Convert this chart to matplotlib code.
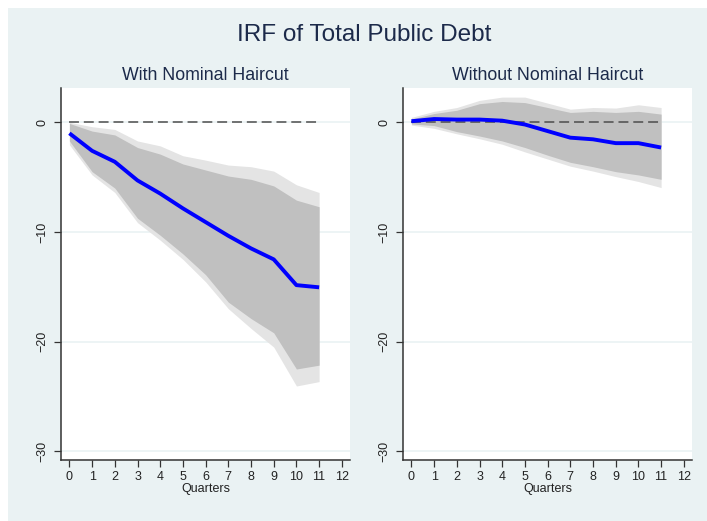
import numpy as np
import matplotlib
matplotlib.use('Agg')
import matplotlib.pyplot as plt
from matplotlib.patches import Rectangle

plt.rcParams['font.family'] = ['Liberation Sans', 'DejaVu Sans']

BG        = '#eaf2f3'
TITLE_CLR = '#1c2a4a'
LINE_CLR  = '#0000ff'
INNER_CLR = '#c0c0c0'
OUTER_CLR = '#e4e4e4'
AXIS_CLR  = '#333333'

quarters = [0, 1, 2, 3, 4, 5, 6, 7, 8, 9, 10, 11]

# With nominal haircut
irf_with       = [-1.0, -2.6, -3.6, -5.3, -6.5, -7.85, -9.1, -10.35, -11.5, -12.5, -14.85, -15.05]
inner_hi_with  = [-0.1, -0.8, -1.15, -2.3, -2.9, -3.8, -4.35, -4.9, -5.2, -5.8, -7.1, -7.7]
inner_lo_with  = [-1.7, -4.5, -6.0, -8.75, -10.3, -12.0, -13.9, -16.4, -17.9, -19.2, -22.5, -22.15]
outer_hi_with  = [0.0, -0.4, -0.65, -1.7, -2.15, -3.05, -3.45, -3.9, -4.05, -4.45, -5.7, -6.4]
outer_lo_with  = [-2.05, -4.8, -6.4, -9.15, -10.75, -12.5, -14.55, -17.0, -18.8, -20.5, -24.05, -23.65]

# Without nominal haircut
irf_wo         = [0.1, 0.3, 0.25, 0.25, 0.15, -0.2, -0.8, -1.4, -1.55, -1.9, -1.9, -2.3]
inner_hi_wo    = [0.3, 0.8, 1.1, 1.7, 1.9, 1.8, 1.35, 0.9, 1.0, 0.9, 1.0, 0.75]
inner_lo_wo    = [-0.15, -0.3, -0.85, -1.25, -1.7, -2.3, -3.0, -3.65, -4.05, -4.5, -4.8, -5.2]
outer_hi_wo    = [0.45, 1.0, 1.35, 2.0, 2.3, 2.3, 1.75, 1.2, 1.35, 1.3, 1.6, 1.35]
outer_lo_wo    = [-0.25, -0.55, -1.05, -1.5, -2.0, -2.7, -3.35, -4.0, -4.45, -4.95, -5.4, -5.95]

panels = [
    ('With Nominal Haircut', irf_with, inner_lo_with, inner_hi_with, outer_lo_with, outer_hi_with),
    ('Without Nominal Haircut', irf_wo, inner_lo_wo, inner_hi_wo, outer_lo_wo, outer_hi_wo),
]

W, H = 707, 521
fig = plt.figure(figsize=(W / 100, H / 100), dpi=100, facecolor='white')
fig.patches.append(Rectangle((8 / W, 0), 1 - 8 / W, 1 - 8 / H, transform=fig.transFigure,
                             facecolor=BG, edgecolor='none', zorder=-5))

fig.text(0.515, 0.933, 'IRF of Total Public Debt', ha='center', va='center',
         fontsize=17.5, color=TITLE_CLR)

ax_pos = [[61 / W, 1 - 460 / H, 289 / W, 372 / H],
          [403 / W, 1 - 460 / H, 289 / W, 372 / H]]

for pos, (sub, irf, ilo, ihi, olo, ohi) in zip(ax_pos, panels):
    ax = fig.add_axes(pos)
    ax.set_facecolor('white')
    ax.fill_between(quarters, olo, ohi, color=OUTER_CLR, linewidth=0, zorder=2)
    ax.fill_between(quarters, ilo, ihi, color=INNER_CLR, linewidth=0, zorder=3)
    ax.plot([quarters[0], quarters[-1]], [0, 0], color='#4d4d4d', lw=1.1,
            linestyle=(0, (6.5, 3.2)), zorder=4)
    ax.plot(quarters, irf, color=LINE_CLR, lw=2.8, zorder=5, solid_capstyle='butt')

    ax.set_xlim(-0.37, 12.36)
    ax.set_ylim(-30.8, 3.13)
    ax.set_xticks(range(0, 13))
    ax.set_yticks([0, -10, -20, -30])
    ax.yaxis.grid(True, color=BG, linewidth=1.2, zorder=1)
    ax.set_axisbelow(True)

    for s in ['top', 'right']:
        ax.spines[s].set_visible(False)
    for s in ['left', 'bottom']:
        ax.spines[s].set_color(AXIS_CLR)
        ax.spines[s].set_linewidth(1.1)

    ax.tick_params(axis='both', direction='out', length=5, width=0.9,
                   color=AXIS_CLR, labelsize=9, labelcolor='#222222', pad=3)
    ax.tick_params(axis='y', labelrotation=90, pad=4)
    for lbl in ax.get_yticklabels():
        lbl.set_va('center')

    ax.set_xlabel('Quarters', fontsize=9, color='#222222', labelpad=0)
    ax.set_title(sub, fontsize=12.8, color=TITLE_CLR, pad=6)

fig.savefig('out.png', dpi=100, facecolor=fig.get_facecolor())
